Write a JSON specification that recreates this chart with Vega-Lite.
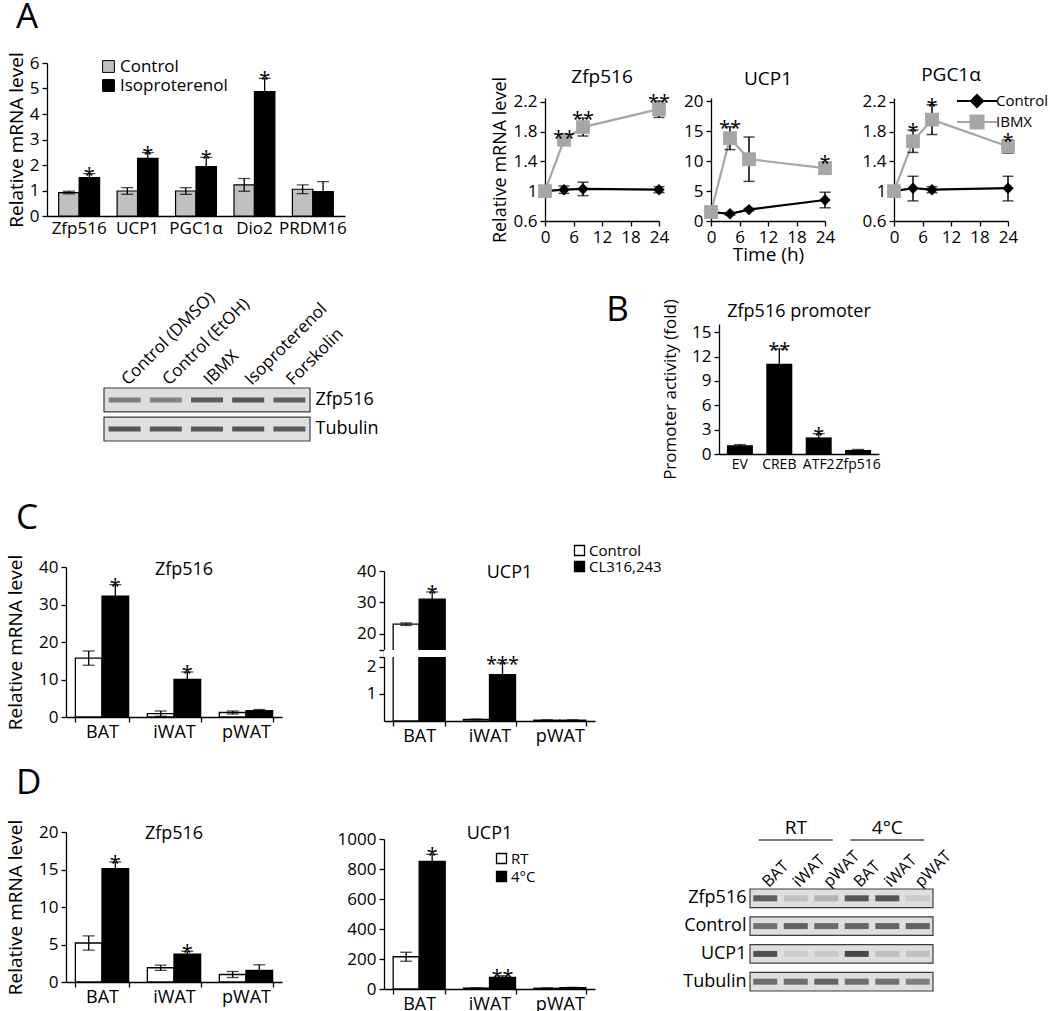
{
  "$schema": "https://vega.github.io/schema/vega-lite/v6.json",
  "padding": {"left": 4, "top": 0, "right": 0, "bottom": 0},
  "background": "white",
  "config": {
    "font": "Open Sans",
    "view": {"stroke": null},
    "axis": {"grid": false, "labelOverlap": false, "domainColor": "black", "tickColor": "black", "labelColor": "black", "titleColor": "black", "labelFontSize": 17, "titleFontSize": 19, "titleFontWeight": "normal", "domainWidth": 1.3, "tickWidth": 1.3, "tickSize": 5, "labelPadding": 3},
    "title": {"fontWeight": "normal", "fontSize": 18, "color": "black"},
    "legend": {"labelFontSize": 16, "labelColor": "black", "padding": 0},
    "tick": {"color": "black"},
    "rule": {"color": "black"},
    "text": {"color": "black"}
  },
  "datasets": {
    "barA": [
      {"gene": "Zfp516", "grp": "Control", "mean": 0.92, "lo": 0.87, "hi": 0.97, "sig": ""},
      {"gene": "Zfp516", "grp": "Isoproterenol", "mean": 1.51, "lo": 1.36, "hi": 1.66, "sig": "*"},
      {"gene": "UCP1", "grp": "Control", "mean": 0.98, "lo": 0.85, "hi": 1.11, "sig": ""},
      {"gene": "UCP1", "grp": "Isoproterenol", "mean": 2.26, "lo": 2.03, "hi": 2.49, "sig": "*"},
      {"gene": "PGC1α", "grp": "Control", "mean": 0.98, "lo": 0.85, "hi": 1.11, "sig": ""},
      {"gene": "PGC1α", "grp": "Isoproterenol", "mean": 1.94, "lo": 1.6, "hi": 2.3, "sig": "*"},
      {"gene": "Dio2", "grp": "Control", "mean": 1.22, "lo": 0.97, "hi": 1.47, "sig": ""},
      {"gene": "Dio2", "grp": "Isoproterenol", "mean": 4.88, "lo": 4.36, "hi": 5.4, "sig": "*"},
      {"gene": "PRDM16", "grp": "Control", "mean": 1.05, "lo": 0.88, "hi": 1.22, "sig": ""},
      {"gene": "PRDM16", "grp": "Isoproterenol", "mean": 0.96, "lo": 0.57, "hi": 1.35, "sig": ""}
    ],
    "lines": [
      {"gene": "Zfp516", "series": "Control", "t": 0, "mean": 1.0, "lo": 1.0, "hi": 1.0, "sig": ""},
      {"gene": "Zfp516", "series": "Control", "t": 4, "mean": 1.02, "lo": 0.97, "hi": 1.07, "sig": ""},
      {"gene": "Zfp516", "series": "Control", "t": 8, "mean": 1.03, "lo": 0.94, "hi": 1.12, "sig": ""},
      {"gene": "Zfp516", "series": "Control", "t": 24, "mean": 1.02, "lo": 0.98, "hi": 1.06, "sig": ""},
      {"gene": "Zfp516", "series": "IBMX", "t": 0, "mean": 1.0, "lo": 1.0, "hi": 1.0, "sig": ""},
      {"gene": "Zfp516", "series": "IBMX", "t": 4, "mean": 1.69, "lo": 1.65, "hi": 1.73, "sig": "**"},
      {"gene": "Zfp516", "series": "IBMX", "t": 8, "mean": 1.86, "lo": 1.74, "hi": 1.98, "sig": "**"},
      {"gene": "Zfp516", "series": "IBMX", "t": 24, "mean": 2.1, "lo": 1.99, "hi": 2.21, "sig": "**"},
      {"gene": "UCP1", "series": "Control", "t": 0, "mean": 1.5, "lo": 1.5, "hi": 1.5, "sig": ""},
      {"gene": "UCP1", "series": "Control", "t": 4, "mean": 1.2, "lo": 1.0, "hi": 1.4, "sig": ""},
      {"gene": "UCP1", "series": "Control", "t": 8, "mean": 1.9, "lo": 1.7, "hi": 2.1, "sig": ""},
      {"gene": "UCP1", "series": "Control", "t": 24, "mean": 3.5, "lo": 2.2, "hi": 4.8, "sig": ""},
      {"gene": "UCP1", "series": "IBMX", "t": 0, "mean": 1.5, "lo": 1.5, "hi": 1.5, "sig": ""},
      {"gene": "UCP1", "series": "IBMX", "t": 4, "mean": 13.8, "lo": 11.9, "hi": 15.7, "sig": "**"},
      {"gene": "UCP1", "series": "IBMX", "t": 8, "mean": 10.3, "lo": 6.6, "hi": 14.0, "sig": ""},
      {"gene": "UCP1", "series": "IBMX", "t": 24, "mean": 8.8, "lo": 7.8, "hi": 9.8, "sig": "*"},
      {"gene": "PGC1α", "series": "Control", "t": 0, "mean": 1.0, "lo": 1.0, "hi": 1.0, "sig": ""},
      {"gene": "PGC1α", "series": "Control", "t": 4, "mean": 1.04, "lo": 0.87, "hi": 1.2, "sig": ""},
      {"gene": "PGC1α", "series": "Control", "t": 8, "mean": 1.02, "lo": 0.98, "hi": 1.06, "sig": ""},
      {"gene": "PGC1α", "series": "Control", "t": 24, "mean": 1.04, "lo": 0.87, "hi": 1.2, "sig": ""},
      {"gene": "PGC1α", "series": "IBMX", "t": 0, "mean": 1.0, "lo": 1.0, "hi": 1.0, "sig": ""},
      {"gene": "PGC1α", "series": "IBMX", "t": 4, "mean": 1.67, "lo": 1.52, "hi": 1.82, "sig": "*"},
      {"gene": "PGC1α", "series": "IBMX", "t": 8, "mean": 1.96, "lo": 1.76, "hi": 2.16, "sig": "*"},
      {"gene": "PGC1α", "series": "IBMX", "t": 24, "mean": 1.6, "lo": 1.51, "hi": 1.69, "sig": "*"}
    ],
    "blotA": [
      {"p": "Zfp516", "lane": "Control (DMSO)", "v": 0.62},
      {"p": "Zfp516", "lane": "Control (EtOH)", "v": 0.58},
      {"p": "Zfp516", "lane": "IBMX", "v": 0.85},
      {"p": "Zfp516", "lane": "Isoproterenol", "v": 0.9},
      {"p": "Zfp516", "lane": "Forskolin", "v": 0.82},
      {"p": "Tubulin", "lane": "Control (DMSO)", "v": 0.92},
      {"p": "Tubulin", "lane": "Control (EtOH)", "v": 0.9},
      {"p": "Tubulin", "lane": "IBMX", "v": 0.9},
      {"p": "Tubulin", "lane": "Isoproterenol", "v": 0.93},
      {"p": "Tubulin", "lane": "Forskolin", "v": 0.88}
    ],
    "bB": [
      {"c": "EV", "mean": 1.08, "lo": 1.0, "hi": 1.16, "sig": ""},
      {"c": "CREB", "mean": 11.1, "lo": 9.25, "hi": 12.95, "sig": "**"},
      {"c": "ATF2", "mean": 2.04, "lo": 1.6, "hi": 2.5, "sig": "*"},
      {"c": "Zfp516", "mean": 0.5, "lo": 0.45, "hi": 0.56, "sig": ""}
    ],
    "cZ": [
      {"t": "BAT", "g": "Control", "mean": 15.7, "lo": 13.8, "hi": 17.6, "sig": ""},
      {"t": "BAT", "g": "CL316,243", "mean": 32.2, "lo": 29.1, "hi": 35.3, "sig": "*"},
      {"t": "iWAT", "g": "Control", "mean": 0.9, "lo": 0.2, "hi": 1.6, "sig": ""},
      {"t": "iWAT", "g": "CL316,243", "mean": 10.0, "lo": 8.0, "hi": 12.0, "sig": "*"},
      {"t": "pWAT", "g": "Control", "mean": 1.2, "lo": 0.8, "hi": 1.6, "sig": ""},
      {"t": "pWAT", "g": "CL316,243", "mean": 1.7, "lo": 1.4, "hi": 2.0, "sig": ""}
    ],
    "cU": [
      {"t": "BAT", "g": "Control", "mean": 23.0, "lo": 22.6, "hi": 23.4, "sig": ""},
      {"t": "BAT", "g": "CL316,243", "mean": 31.0, "lo": 28.7, "hi": 33.3, "sig": "*"},
      {"t": "iWAT", "g": "Control", "mean": 0.06, "lo": 0.05, "hi": 0.07, "sig": ""},
      {"t": "iWAT", "g": "CL316,243", "mean": 1.72, "lo": 1.29, "hi": 2.15, "sig": "***"},
      {"t": "pWAT", "g": "Control", "mean": 0.03, "lo": 0.03, "hi": 0.03, "sig": ""},
      {"t": "pWAT", "g": "CL316,243", "mean": 0.03, "lo": 0.03, "hi": 0.03, "sig": ""}
    ],
    "dZ": [
      {"t": "BAT", "g": "RT", "mean": 5.2, "lo": 4.25, "hi": 6.15, "sig": ""},
      {"t": "BAT", "g": "4°C", "mean": 15.1, "lo": 14.2, "hi": 16.0, "sig": "*"},
      {"t": "iWAT", "g": "RT", "mean": 1.9, "lo": 1.55, "hi": 2.25, "sig": ""},
      {"t": "iWAT", "g": "4°C", "mean": 3.7, "lo": 3.3, "hi": 4.1, "sig": "*"},
      {"t": "pWAT", "g": "RT", "mean": 1.0, "lo": 0.6, "hi": 1.4, "sig": ""},
      {"t": "pWAT", "g": "4°C", "mean": 1.55, "lo": 0.8, "hi": 2.3, "sig": ""}
    ],
    "dU": [
      {"t": "BAT", "g": "RT", "mean": 215, "lo": 185, "hi": 245, "sig": ""},
      {"t": "BAT", "g": "4°C", "mean": 850, "lo": 802, "hi": 898, "sig": "*"},
      {"t": "iWAT", "g": "RT", "mean": 6, "lo": 4, "hi": 8, "sig": ""},
      {"t": "iWAT", "g": "4°C", "mean": 78, "lo": 68, "hi": 88, "sig": "**"},
      {"t": "pWAT", "g": "RT", "mean": 5, "lo": 3, "hi": 7, "sig": ""},
      {"t": "pWAT", "g": "4°C", "mean": 9, "lo": 7, "hi": 11, "sig": ""}
    ],
    "blotD": [
      {"p": "Zfp516", "lane": "RT BAT", "v": 0.85}, {"p": "Zfp516", "lane": "RT iWAT", "v": 0.18}, {"p": "Zfp516", "lane": "RT pWAT", "v": 0.25},
      {"p": "Zfp516", "lane": "4°C BAT", "v": 0.9}, {"p": "Zfp516", "lane": "4°C iWAT", "v": 0.92}, {"p": "Zfp516", "lane": "4°C pWAT", "v": 0.12},
      {"p": "Control", "lane": "RT BAT", "v": 0.7}, {"p": "Control", "lane": "RT iWAT", "v": 0.82}, {"p": "Control", "lane": "RT pWAT", "v": 0.75},
      {"p": "Control", "lane": "4°C BAT", "v": 0.78}, {"p": "Control", "lane": "4°C iWAT", "v": 0.8}, {"p": "Control", "lane": "4°C pWAT", "v": 0.82},
      {"p": "UCP1", "lane": "RT BAT", "v": 0.95}, {"p": "UCP1", "lane": "RT iWAT", "v": 0.1}, {"p": "UCP1", "lane": "RT pWAT", "v": 0.12},
      {"p": "UCP1", "lane": "4°C BAT", "v": 1.0}, {"p": "UCP1", "lane": "4°C iWAT", "v": 0.18}, {"p": "UCP1", "lane": "4°C pWAT", "v": 0.18},
      {"p": "Tubulin", "lane": "RT BAT", "v": 0.72}, {"p": "Tubulin", "lane": "RT iWAT", "v": 0.72}, {"p": "Tubulin", "lane": "RT pWAT", "v": 0.8},
      {"p": "Tubulin", "lane": "4°C BAT", "v": 0.72}, {"p": "Tubulin", "lane": "4°C iWAT", "v": 0.7}, {"p": "Tubulin", "lane": "4°C pWAT", "v": 0.6}
    ]
  },
  "spacing": 21,
  "resolve": {"scale": {"fill": "independent", "color": "independent", "shape": "independent", "size": "independent", "xOffset": "independent"}},
  "vconcat": [
    {
      "spacing": 17,
      "resolve": {"scale": {"fill": "independent", "color": "independent", "shape": "independent", "size": "independent", "xOffset": "independent"}},
      "vconcat": [
        {
          "title": {"text": "A", "anchor": "start", "fontSize": 35, "offset": 15, "dx": 12},
          "spacing": 2,
          "resolve": {"scale": {"fill": "independent", "color": "independent", "shape": "independent", "size": "independent", "xOffset": "independent"}},
          "hconcat": [
            {"width": 1, "height": 1, "data": {"values": []}, "mark": "point"},
            {
              "spacing": 144,
              "resolve": {"scale": {"fill": "independent", "color": "independent", "shape": "independent", "size": "independent", "xOffset": "independent"}},
              "hconcat": [
                {
                  "spacing": 0,
                  "resolve": {"scale": {"fill": "independent", "color": "independent", "shape": "independent", "size": "independent", "xOffset": "independent"}},
                  "vconcat": [
                    {"width": 1, "height": 1, "data": {"values": []}, "mark": "point"},
                    {
                      "width": 298, "height": 153,
                      "data": {"name": "barA"},
                      "encoding": {
                        "x": {"field": "gene", "type": "nominal", "sort": null, "scale": {"paddingInner": 0.3, "paddingOuter": 0.2}, "axis": {"title": null, "labelAngle": 0, "ticks": false, "labelFontSize": 17, "labelPadding": 4}},
                        "xOffset": {"field": "grp", "type": "nominal", "sort": ["Control", "Isoproterenol"]}
                      },
                      "layer": [
                        {"mark": {"type": "bar", "stroke": "black", "strokeWidth": 1.2},
                         "encoding": {
                           "y": {"field": "mean", "type": "quantitative", "scale": {"domain": [0, 6]}, "axis": {"title": "Relative mRNA level", "values": [0, 1, 2, 3, 4, 5, 6], "format": "d", "tickCount": 20, "labelOverlap": false, "titlePadding": 3}},
                           "fill": {"field": "grp", "type": "nominal", "sort": ["Control", "Isoproterenol"], "scale": {"range": ["#c0c0c0", "#000000"]},
                                    "legend": {"title": null, "orient": "none", "legendX": 53, "legendY": -5, "symbolType": "square", "symbolSize": 140, "symbolStrokeColor": "black", "symbolStrokeWidth": 1, "labelFontSize": 17, "rowPadding": 1, "labelOffset": 3}}
                         }},
                        {"mark": {"type": "rule", "strokeWidth": 1.3}, "encoding": {"y": {"field": "lo", "type": "quantitative"}, "y2": {"field": "hi"}}},
                        {"mark": {"type": "tick", "orient": "horizontal", "size": 12, "thickness": 1.3}, "encoding": {"y": {"field": "hi", "type": "quantitative"}}},
                        {"mark": {"type": "tick", "orient": "horizontal", "size": 12, "thickness": 1.3}, "encoding": {"y": {"field": "lo", "type": "quantitative"}}},
                        {"mark": {"type": "text", "baseline": "alphabetic", "dy": 8, "fontSize": 20}, "encoding": {"y": {"field": "hi", "type": "quantitative"}, "text": {"field": "sig"}}}
                      ]
                    }
                  ]
                },
                {
                  "spacing": 0,
                  "resolve": {"scale": {"fill": "independent", "color": "independent", "shape": "independent", "size": "independent", "xOffset": "independent"}},
                  "vconcat": [
                    {"width": 1, "height": 16, "data": {"values": []}, "mark": "point"},
                    {
                      "spacing": 27,
                      "resolve": {"scale": {"fill": "independent", "color": "independent", "shape": "independent", "size": "independent", "xOffset": "independent"}},
                      "hconcat": [
                        {
                          "spacing": 12,
                          "resolve": {"scale": {"fill": "independent", "color": "independent", "shape": "independent", "size": "independent", "xOffset": "independent"}},
                          "hconcat": [
                            {
                              "width": 114, "height": 123,
                              "title": {"text": "Zfp516", "offset": 0, "dy": 11, "fontSize": 19},
                              "data": {"name": "lines"},
                              "transform": [{"filter": "datum.gene === 'Zfp516'"}],
                              "encoding": {"x": {"field": "t", "type": "quantitative", "scale": {"domain": [0, 24], "nice": false}, "axis": {"values": [0, 6, 12, 18, 24], "tickCount": 20, "title": null, "labelFlush": false, "labelOverlap": false}}},
                              "layer": [
                                {"mark": {"type": "line", "strokeWidth": 2.2},
                                 "encoding": {"y": {"field": "mean", "type": "quantitative", "scale": {"domain": [0.6, 2.25], "nice": false, "zero": false}, "axis": {"values": [0.6, 1, 1.4, 1.8, 2.2], "tickCount": 20, "format": "~g", "labelOverlap": false, "title": "Relative mRNA level", "titleFontSize": 18, "titlePadding": 4}},
                                              "color": {"field": "series", "type": "nominal", "scale": {"domain": ["Control", "IBMX"], "range": ["#000000", "#a6a6a6"]}, "legend": null}}},
                                {"mark": {"type": "rule", "strokeWidth": 1.5}, "encoding": {"y": {"field": "lo", "type": "quantitative"}, "y2": {"field": "hi"}}},
                                {"mark": {"type": "tick", "orient": "horizontal", "size": 11, "thickness": 1.5}, "encoding": {"y": {"field": "hi", "type": "quantitative"}}},
                                {"mark": {"type": "tick", "orient": "horizontal", "size": 11, "thickness": 1.5}, "encoding": {"y": {"field": "lo", "type": "quantitative"}}},
                                {"transform": [{"filter": "datum.series === 'Control'"}], "mark": {"type": "point", "shape": "diamond", "filled": true, "opacity": 1, "size": 130, "color": "#000000"}, "encoding": {"y": {"field": "mean", "type": "quantitative"}}},
                                {"transform": [{"filter": "datum.series === 'IBMX'"}], "mark": {"type": "point", "shape": "square", "filled": true, "opacity": 1, "size": 190, "color": "#a6a6a6"}, "encoding": {"y": {"field": "mean", "type": "quantitative"}}},
                                {"mark": {"type": "text", "baseline": "alphabetic", "dy": 8, "fontSize": 20}, "encoding": {"y": {"field": "hi", "type": "quantitative"}, "text": {"field": "sig"}}}
                              ]
                            },
                            {
                              "width": 114, "height": 123,
                              "title": {"text": "UCP1", "offset": 0, "dy": -3, "fontSize": 19},
                              "data": {"name": "lines"},
                              "transform": [{"filter": "datum.gene === 'UCP1'"}],
                              "encoding": {"x": {"field": "t", "type": "quantitative", "scale": {"domain": [0, 24], "nice": false}, "axis": {"values": [0, 6, 12, 18, 24], "tickCount": 20, "title": "Time (h)", "titlePadding": 0, "labelFlush": false, "labelOverlap": false}}},
                              "layer": [
                                {"mark": {"type": "line", "strokeWidth": 2.2},
                                 "encoding": {"y": {"field": "mean", "type": "quantitative", "scale": {"domain": [0, 20.5], "nice": false, "zero": false}, "axis": {"values": [0, 5, 10, 15, 20], "format": "d", "tickCount": 20, "labelOverlap": false, "title": null}},
                                              "color": {"field": "series", "type": "nominal", "scale": {"domain": ["Control", "IBMX"], "range": ["#000000", "#a6a6a6"]}, "legend": null}}},
                                {"mark": {"type": "rule", "strokeWidth": 1.5}, "encoding": {"y": {"field": "lo", "type": "quantitative"}, "y2": {"field": "hi"}}},
                                {"mark": {"type": "tick", "orient": "horizontal", "size": 11, "thickness": 1.5}, "encoding": {"y": {"field": "hi", "type": "quantitative"}}},
                                {"mark": {"type": "tick", "orient": "horizontal", "size": 11, "thickness": 1.5}, "encoding": {"y": {"field": "lo", "type": "quantitative"}}},
                                {"transform": [{"filter": "datum.series === 'Control'"}], "mark": {"type": "point", "shape": "diamond", "filled": true, "opacity": 1, "size": 130, "color": "#000000"}, "encoding": {"y": {"field": "mean", "type": "quantitative"}}},
                                {"transform": [{"filter": "datum.series === 'IBMX'"}], "mark": {"type": "point", "shape": "square", "filled": true, "opacity": 1, "size": 190, "color": "#a6a6a6"}, "encoding": {"y": {"field": "mean", "type": "quantitative"}}},
                                {"mark": {"type": "text", "baseline": "alphabetic", "dy": 8, "fontSize": 20}, "encoding": {"y": {"field": "hi", "type": "quantitative"}, "text": {"field": "sig"}}}
                              ]
                            }
                          ]
                        },
                        {
                          "width": 114, "height": 123,
                          "title": {"text": "PGC1α", "offset": 0, "dy": -5, "fontSize": 19},
                          "data": {"name": "lines"},
                          "transform": [{"filter": "datum.gene === 'PGC1α'"}],
                          "encoding": {"x": {"field": "t", "type": "quantitative", "scale": {"domain": [0, 24], "nice": false}, "axis": {"values": [0, 6, 12, 18, 24], "tickCount": 20, "title": null, "labelFlush": false, "labelOverlap": false}}},
                          "layer": [
                            {"mark": {"type": "line", "strokeWidth": 2.2},
                             "encoding": {"y": {"field": "mean", "type": "quantitative", "scale": {"domain": [0.6, 2.25], "nice": false, "zero": false}, "axis": {"values": [0.6, 1, 1.4, 1.8, 2.2], "tickCount": 20, "format": "~g", "labelOverlap": false, "title": null}},
                                          "color": {"field": "series", "type": "nominal", "scale": {"domain": ["Control", "IBMX"], "range": ["#000000", "#a6a6a6"]},
                                                    "legend": {"title": null, "orient": "none", "legendX": 72, "legendY": -8, "symbolSize": 400, "symbolType": "M-2,0H2M-0.6,0L0,-0.6L0.6,0L0,0.6Z", "symbolStrokeWidth": 2, "labelFontSize": 15, "rowPadding": -8, "labelOffset": 8,
                                                               "encode": {"symbols": {"update": {
                                                                 "shape": {"signal": "datum.value === 'Control' ? 'M-2,0H2M-0.6,0L0,-0.6L0.6,0L0,0.6Z' : 'M-2,0H2M-0.65,-0.65H0.65V0.65H-0.65Z'"},
                                                                 "fill": {"signal": "datum.value === 'Control' ? '#000000' : '#a6a6a6'"},
                                                                 "stroke": {"signal": "datum.value === 'Control' ? '#000000' : '#a6a6a6'"},
                                                                 "strokeWidth": {"value": 2},
                                                                 "opacity": {"value": 1}}}}}}}},
                            {"mark": {"type": "rule", "strokeWidth": 1.5}, "encoding": {"y": {"field": "lo", "type": "quantitative"}, "y2": {"field": "hi"}}},
                            {"mark": {"type": "tick", "orient": "horizontal", "size": 11, "thickness": 1.5}, "encoding": {"y": {"field": "hi", "type": "quantitative"}}},
                            {"mark": {"type": "tick", "orient": "horizontal", "size": 11, "thickness": 1.5}, "encoding": {"y": {"field": "lo", "type": "quantitative"}}},
                            {"transform": [{"filter": "datum.series === 'Control'"}], "mark": {"type": "point", "shape": "diamond", "filled": true, "opacity": 1, "size": 130, "color": "#000000"}, "encoding": {"y": {"field": "mean", "type": "quantitative"}}},
                            {"transform": [{"filter": "datum.series === 'IBMX'"}], "mark": {"type": "point", "shape": "square", "filled": true, "opacity": 1, "size": 190, "color": "#a6a6a6"}, "encoding": {"y": {"field": "mean", "type": "quantitative"}}},
                            {"mark": {"type": "text", "baseline": "alphabetic", "dy": 8, "fontSize": 20}, "encoding": {"y": {"field": "hi", "type": "quantitative"}, "text": {"field": "sig"}}}
                          ]
                        }
                      ]
                    }
                  ]
                }
              ]
            }
          ]
        },
        {
          "spacing": 98,
          "resolve": {"scale": {"fill": "independent", "color": "independent", "shape": "independent", "size": "independent", "xOffset": "independent"}},
          "hconcat": [
            {"width": 1, "height": 1, "data": {"values": []}, "mark": "point"},
            {
              "spacing": 227,
              "resolve": {"scale": {"fill": "independent", "color": "independent", "shape": "independent", "size": "independent", "xOffset": "independent"}},
              "hconcat": [
                {
                  "spacing": 0,
                  "vconcat": [
                    {"width": 1, "height": 7, "data": {"values": []}, "mark": "point"},
                    {
                      "width": 206, "height": 53,
                      "layer": [
                        {"data": {"values": [{"p": "Zfp516"}, {"p": "Tubulin"}]},
                         "mark": {"type": "rect", "fill": "#dedede", "stroke": "#3c3c3c", "strokeWidth": 1.2},
                         "encoding": {"y": {"field": "p", "type": "nominal", "sort": ["Zfp516", "Tubulin"], "scale": {"paddingInner": 0.18, "paddingOuter": 0}, "axis": {"orient": "right", "title": null, "domain": false, "ticks": false, "labelFontSize": 18, "labelPadding": 5}}}},
                        {"data": {"name": "blotA"},
                         "mark": {"type": "tick", "orient": "horizontal", "thickness": 5, "size": 32},
                         "encoding": {
                           "x": {"field": "lane", "type": "nominal", "sort": null, "scale": {"paddingInner": 0, "paddingOuter": 0}, "axis": {"orient": "top", "title": null, "domain": false, "ticks": false, "labelAngle": -45, "labelAlign": "left", "labelBaseline": "middle", "labelFontSize": 17, "labelPadding": 6}},
                           "y": {"field": "p", "type": "nominal", "sort": ["Zfp516", "Tubulin"]},
                           "color": {"field": "v", "type": "quantitative", "scale": {"domain": [0, 1], "range": ["#dedede", "#0a0a0a"]}, "legend": null}
                         }}
                      ]
                    }
                  ]
                },
                {
                  "spacing": 0,
                  "vconcat": [
                    {"width": 1, "height": 11, "data": {"values": []}, "mark": "point"},
                    {
                      "title": {"text": "B", "orient": "left", "angle": 0, "anchor": "end", "align": "right", "baseline": "top", "fontSize": 35, "offset": 10, "dy": -6},
                      "hconcat": [
                        {
                          "width": 160, "height": 130,
                          "data": {"name": "bB"},
                          "title": {"text": "Zfp516 promoter", "fontSize": 18, "offset": 0, "dy": 22},
                          "encoding": {"x": {"field": "c", "type": "nominal", "sort": null, "scale": {"paddingInner": 0.34, "paddingOuter": 0.2}, "axis": {"title": null, "labelAngle": 0, "ticks": false, "labelFontSize": 14}}},
                          "layer": [
                            {"mark": {"type": "bar", "color": "black"}, "encoding": {"y": {"field": "mean", "type": "quantitative", "scale": {"domain": [0, 15]}, "axis": {"values": [0, 3, 6, 9, 12, 15], "format": "d", "tickCount": 20, "labelOverlap": false, "title": "Promoter activity (fold)", "titleFontSize": 17, "titlePadding": 12}}}},
                            {"mark": {"type": "rule", "strokeWidth": 1.3}, "encoding": {"y": {"field": "lo", "type": "quantitative"}, "y2": {"field": "hi"}}},
                            {"mark": {"type": "tick", "orient": "horizontal", "size": 12, "thickness": 1.3}, "encoding": {"y": {"field": "hi", "type": "quantitative"}}},
                            {"mark": {"type": "text", "baseline": "alphabetic", "dy": 8, "fontSize": 20}, "encoding": {"y": {"field": "hi", "type": "quantitative"}, "text": {"field": "sig"}}}
                          ]
                        }
                      ]
                    }
                  ]
                }
              ]
            }
          ]
        }
      ]
    },
    {
      "spacing": 21,
      "resolve": {"scale": {"fill": "independent", "color": "independent", "shape": "independent", "size": "independent", "xOffset": "independent"}},
      "vconcat": [
        {
          "title": {"text": "C", "anchor": "start", "fontSize": 35, "offset": 6, "dx": 12},
          "spacing": 1,
          "resolve": {"scale": {"fill": "independent", "color": "independent", "shape": "independent", "size": "independent", "xOffset": "independent"}},
          "hconcat": [
            {"width": 1, "height": 1, "data": {"values": []}, "mark": "point"},
            {
              "spacing": 74,
              "resolve": {"scale": {"fill": "independent", "color": "independent", "shape": "independent", "size": "independent", "xOffset": "independent"}},
              "hconcat": [
                {
                  "spacing": 0,
                  "resolve": {"scale": {"fill": "independent", "color": "independent", "shape": "independent", "size": "independent", "xOffset": "independent"}},
                  "vconcat": [
                    {"width": 1, "height": 12, "data": {"values": []}, "mark": "point"},
                    {
                      "width": 216, "height": 150,
                      "data": {"name": "cZ"},
                      "title": {"text": "Zfp516", "fontSize": 18, "offset": 0, "dy": 25, "dx": 10},
                      "encoding": {
                        "x": {"field": "t", "type": "nominal", "sort": null, "scale": {"paddingInner": 0.26, "paddingOuter": 0.13}, "axis": {"title": null, "labelAngle": 0, "ticks": true, "tickBand": "extent", "labelFontSize": 18, "labelPadding": 1}},
                        "xOffset": {"field": "g", "type": "nominal", "sort": ["Control", "CL316,243"]}
                      },
                      "layer": [
                        {"mark": {"type": "bar", "stroke": "black", "strokeWidth": 1.3},
                         "encoding": {"y": {"field": "mean", "type": "quantitative", "scale": {"domain": [0, 40]}, "axis": {"values": [0, 10, 20, 30, 40], "format": "d", "tickCount": 20, "labelOverlap": false, "title": "Relative mRNA level", "titlePadding": 13}},
                                      "fill": {"field": "g", "type": "nominal", "sort": ["Control", "CL316,243"], "scale": {"range": ["#ffffff", "#000000"]}, "legend": null}}},
                        {"mark": {"type": "rule", "strokeWidth": 1.3}, "encoding": {"y": {"field": "lo", "type": "quantitative"}, "y2": {"field": "hi"}}},
                        {"mark": {"type": "tick", "orient": "horizontal", "size": 12, "thickness": 1.3}, "encoding": {"y": {"field": "hi", "type": "quantitative"}}},
                        {"mark": {"type": "tick", "orient": "horizontal", "size": 12, "thickness": 1.3}, "encoding": {"y": {"field": "lo", "type": "quantitative"}}},
                        {"mark": {"type": "text", "baseline": "alphabetic", "dy": 8, "fontSize": 20}, "encoding": {"y": {"field": "hi", "type": "quantitative"}, "text": {"field": "sig"}}}
                      ]
                    }
                  ]
                },
                {
                  "spacing": 0,
                  "resolve": {"scale": {"fill": "independent", "color": "independent", "shape": "independent", "size": "independent", "xOffset": "independent"}},
                  "vconcat": [
                    {"width": 1, "height": 1, "data": {"values": []}, "mark": "point"},
                    {
                      "width": 211, "height": 150,
                      "title": {"text": "UCP1", "fontSize": 18, "offset": 0, "dy": 39, "dx": 20},
                      "layer": [
                        {"data": {"name": "cU"},
                         "mark": {"type": "bar", "stroke": "black", "strokeWidth": 1.3},
                         "encoding": {
                           "x": {"field": "t", "type": "nominal", "sort": null, "scale": {"paddingInner": 0.26, "paddingOuter": 0.13}, "axis": {"title": null, "labelAngle": 0, "ticks": true, "tickBand": "extent", "labelFontSize": 18, "labelPadding": 1}},
                           "xOffset": {"field": "g", "type": "nominal", "sort": ["Control", "CL316,243"]},
                           "y": {"field": "mean", "type": "quantitative", "scale": {"domain": [0, 2.37, 14.75, 40], "range": [150, 86, 79, 0], "nice": false, "zero": false},
                                 "axis": {"values": [1, 2, 2.37, 14.75, 20, 30, 40], "tickCount": 20, "labelOverlap": false, "labelExpr": "datum.value == 2.37 || datum.value == 14.75 ? '' : datum.label", "title": null}},
                           "fill": {"field": "g", "type": "nominal", "sort": ["Control", "CL316,243"], "scale": {"range": ["#ffffff", "#000000"]},
                                    "legend": {"title": null, "orient": "none", "legendX": 188, "legendY": -28, "symbolType": "square", "symbolSize": 100, "symbolStrokeColor": "black", "symbolStrokeWidth": 1.3, "labelFontSize": 15, "rowPadding": -2, "labelOffset": 2}}
                         }},
                        {"data": {"values": [{}]},
                         "mark": {"type": "rect", "fill": "white"},
                         "encoding": {"y": {"datum": 2.37, "type": "quantitative"}, "y2": {"datum": 14.75}}},
                        {"data": {"name": "cU"},
                         "mark": {"type": "rule", "strokeWidth": 1.3},
                         "encoding": {"x": {"field": "t", "type": "nominal", "sort": null}, "xOffset": {"field": "g", "type": "nominal", "sort": ["Control", "CL316,243"]}, "y": {"field": "lo", "type": "quantitative"}, "y2": {"field": "hi"}}},
                        {"data": {"name": "cU"},
                         "mark": {"type": "tick", "orient": "horizontal", "size": 12, "thickness": 1.3},
                         "encoding": {"x": {"field": "t", "type": "nominal", "sort": null}, "xOffset": {"field": "g", "type": "nominal", "sort": ["Control", "CL316,243"]}, "y": {"field": "hi", "type": "quantitative"}}},
                        {"data": {"name": "cU"},
                         "mark": {"type": "tick", "orient": "horizontal", "size": 12, "thickness": 1.3},
                         "encoding": {"x": {"field": "t", "type": "nominal", "sort": null}, "xOffset": {"field": "g", "type": "nominal", "sort": ["Control", "CL316,243"]}, "y": {"field": "lo", "type": "quantitative"}}},
                        {"data": {"name": "cU"},
                         "mark": {"type": "text", "baseline": "alphabetic", "dy": 8, "fontSize": 20},
                         "encoding": {"x": {"field": "t", "type": "nominal", "sort": null}, "xOffset": {"field": "g", "type": "nominal", "sort": ["Control", "CL316,243"]}, "y": {"field": "hi", "type": "quantitative"}, "text": {"field": "sig"}}}
                      ]
                    }
                  ]
                }
              ]
            }
          ]
        },
        {
          "title": {"text": "D", "anchor": "start", "fontSize": 35, "offset": 17, "dx": 12},
          "spacing": 1,
          "resolve": {"scale": {"fill": "independent", "color": "independent", "shape": "independent", "size": "independent", "xOffset": "independent"}},
          "hconcat": [
            {"width": 1, "height": 1, "data": {"values": []}, "mark": "point"},
            {
              "spacing": 87,
              "resolve": {"scale": {"fill": "independent", "color": "independent", "shape": "independent", "size": "independent", "xOffset": "independent"}},
              "hconcat": [
                {
                  "spacing": 55,
                  "resolve": {"scale": {"fill": "independent", "color": "independent", "shape": "independent", "size": "independent", "xOffset": "independent"}},
                  "hconcat": [
                    {
                      "spacing": 0,
                      "resolve": {"scale": {"fill": "independent", "color": "independent", "shape": "independent", "size": "independent", "xOffset": "independent"}},
                      "vconcat": [
                        {"width": 1, "height": 1, "data": {"values": []}, "mark": "point"},
                        {
                          "width": 216, "height": 150,
                          "data": {"name": "dZ"},
                          "title": {"text": "Zfp516", "fontSize": 18, "offset": 0, "dy": 24},
                          "encoding": {
                            "x": {"field": "t", "type": "nominal", "sort": null, "scale": {"paddingInner": 0.26, "paddingOuter": 0.13}, "axis": {"title": null, "labelAngle": 0, "ticks": true, "tickBand": "extent", "labelFontSize": 18, "labelPadding": 1}},
                            "xOffset": {"field": "g", "type": "nominal", "sort": ["RT", "4°C"]}
                          },
                          "layer": [
                            {"mark": {"type": "bar", "stroke": "black", "strokeWidth": 1.3},
                             "encoding": {"y": {"field": "mean", "type": "quantitative", "scale": {"domain": [0, 20]}, "axis": {"values": [0, 5, 10, 15, 20], "format": "d", "tickCount": 20, "labelOverlap": false, "title": "Relative mRNA level", "titlePadding": 13}},
                                          "fill": {"field": "g", "type": "nominal", "sort": ["RT", "4°C"], "scale": {"range": ["#ffffff", "#000000"]}, "legend": null}}},
                            {"mark": {"type": "rule", "strokeWidth": 1.3}, "encoding": {"y": {"field": "lo", "type": "quantitative"}, "y2": {"field": "hi"}}},
                            {"mark": {"type": "tick", "orient": "horizontal", "size": 12, "thickness": 1.3}, "encoding": {"y": {"field": "hi", "type": "quantitative"}}},
                            {"mark": {"type": "tick", "orient": "horizontal", "size": 12, "thickness": 1.3}, "encoding": {"y": {"field": "lo", "type": "quantitative"}}},
                            {"mark": {"type": "text", "baseline": "alphabetic", "dy": 8, "fontSize": 20}, "encoding": {"y": {"field": "hi", "type": "quantitative"}, "text": {"field": "sig"}}}
                          ]
                        }
                      ]
                    },
                    {
                      "spacing": 0,
                      "resolve": {"scale": {"fill": "independent", "color": "independent", "shape": "independent", "size": "independent", "xOffset": "independent"}},
                      "vconcat": [
                        {"width": 1, "height": 7, "data": {"values": []}, "mark": "point"},
                        {
                          "width": 211, "height": 150,
                          "data": {"name": "dU"},
                          "title": {"text": "UCP1", "fontSize": 18, "offset": 0, "dy": 13},
                          "encoding": {
                            "x": {"field": "t", "type": "nominal", "sort": null, "scale": {"paddingInner": 0.26, "paddingOuter": 0.13}, "axis": {"title": null, "labelAngle": 0, "ticks": true, "tickBand": "extent", "labelFontSize": 18, "labelPadding": 1}},
                            "xOffset": {"field": "g", "type": "nominal", "sort": ["RT", "4°C"]}
                          },
                          "layer": [
                            {"mark": {"type": "bar", "stroke": "black", "strokeWidth": 1.3},
                             "encoding": {"y": {"field": "mean", "type": "quantitative", "scale": {"domain": [0, 1000]}, "axis": {"values": [0, 200, 400, 600, 800, 1000], "format": "d", "tickCount": 20, "labelOverlap": false, "title": null}},
                                          "fill": {"field": "g", "type": "nominal", "sort": ["RT", "4°C"], "scale": {"range": ["#ffffff", "#000000"]},
                                                   "legend": {"title": null, "orient": "none", "legendX": 110, "legendY": 12, "symbolType": "square", "symbolSize": 100, "symbolStrokeColor": "black", "symbolStrokeWidth": 1.3, "labelFontSize": 15, "rowPadding": 1, "labelOffset": 2}}}},
                            {"mark": {"type": "rule", "strokeWidth": 1.3}, "encoding": {"y": {"field": "lo", "type": "quantitative"}, "y2": {"field": "hi"}}},
                            {"mark": {"type": "tick", "orient": "horizontal", "size": 12, "thickness": 1.3}, "encoding": {"y": {"field": "hi", "type": "quantitative"}}},
                            {"mark": {"type": "tick", "orient": "horizontal", "size": 12, "thickness": 1.3}, "encoding": {"y": {"field": "lo", "type": "quantitative"}}},
                            {"mark": {"type": "text", "baseline": "alphabetic", "dy": 8, "fontSize": 20}, "encoding": {"y": {"field": "hi", "type": "quantitative"}, "text": {"field": "sig"}}}
                          ]
                        }
                      ]
                    }
                  ]
                },
                {
                  "spacing": 0,
                  "vconcat": [
                    {"width": 1, "height": 1, "data": {"values": []}, "mark": "point"},
                    {
                      "spacing": 6,
                      "vconcat": [
                        {
                          "width": 183, "height": 21,
                          "data": {"values": [{"g": "RT"}, {"g": "4°C"}]},
                          "encoding": {"x": {"field": "g", "type": "nominal", "sort": null, "scale": {"paddingInner": 0, "paddingOuter": 0}, "axis": null}},
                          "layer": [
                            {"mark": {"type": "tick", "orient": "horizontal", "thickness": 1.3, "size": 74}, "encoding": {"y": {"datum": 0, "type": "quantitative", "scale": {"domain": [0, 1]}, "axis": null}}},
                            {"mark": {"type": "text", "fontSize": 19, "baseline": "top"}, "encoding": {"y": {"datum": 1, "type": "quantitative"}, "text": {"field": "g"}}}
                          ]
                        },
                        {
                          "width": 183, "height": 102,
                          "layer": [
                            {"data": {"values": [{"p": "Zfp516"}, {"p": "Control"}, {"p": "UCP1"}, {"p": "Tubulin"}]},
                             "mark": {"type": "rect", "fill": "#dedede", "stroke": "#3c3c3c", "strokeWidth": 1.2},
                             "encoding": {"y": {"field": "p", "type": "nominal", "sort": ["Zfp516", "Control", "UCP1", "Tubulin"], "scale": {"paddingInner": 0.33, "paddingOuter": 0}, "axis": {"orient": "left", "title": null, "domain": false, "ticks": false, "labelFontSize": 18, "labelPadding": 4}}}},
                            {"data": {"name": "blotD"},
                             "mark": {"type": "tick", "orient": "horizontal", "thickness": 6, "size": 24},
                             "encoding": {
                               "x": {"field": "lane", "type": "nominal", "sort": null, "scale": {"paddingInner": 0, "paddingOuter": 0}, "axis": {"orient": "top", "title": null, "domain": false, "ticks": false, "labelAngle": -45, "labelAlign": "left", "labelBaseline": "middle", "labelFontSize": 16, "labelPadding": 5, "labelExpr": "split(datum.value, ' ')[1]"}},
                               "y": {"field": "p", "type": "nominal", "sort": ["Zfp516", "Control", "UCP1", "Tubulin"]},
                               "color": {"field": "v", "type": "quantitative", "scale": {"domain": [0, 1], "range": ["#dedede", "#0a0a0a"]}, "legend": null}
                             }}
                          ]
                        }
                      ]
                    }
                  ]
                }
              ]
            }
          ]
        }
      ]
    }
  ]
}
